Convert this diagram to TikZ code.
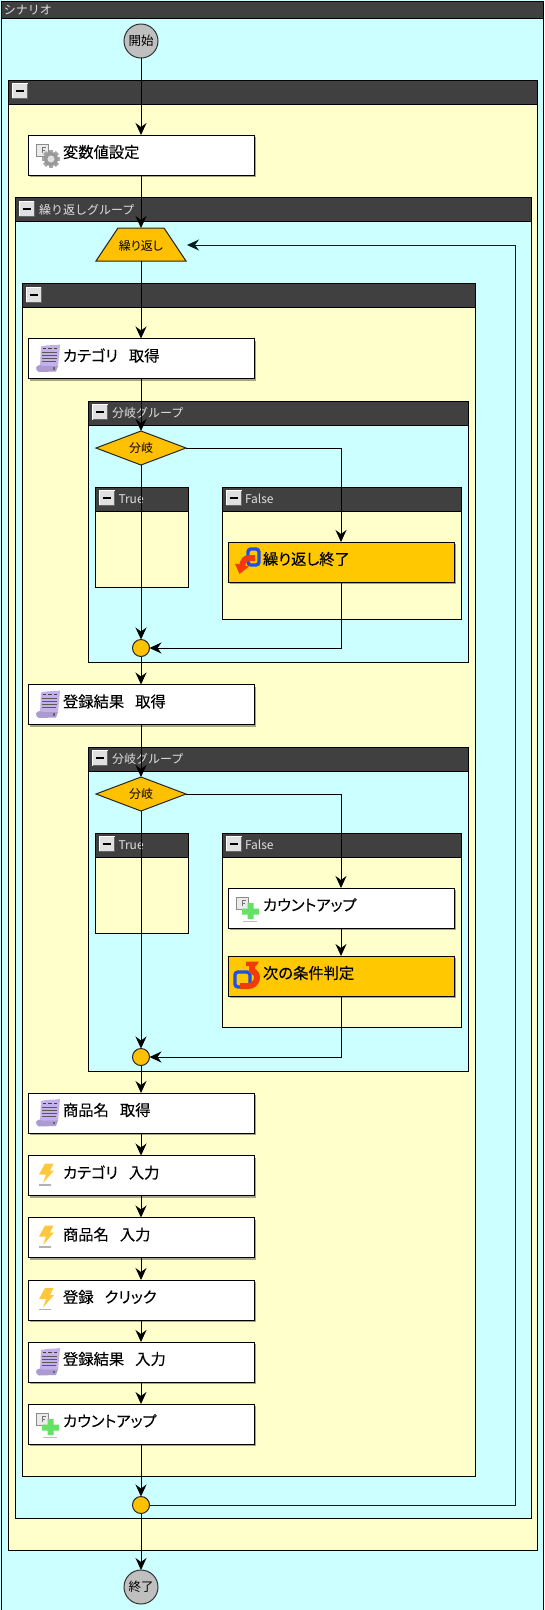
\documentclass[tikz,border=0pt]{standalone}
\usepackage{fontspec}
\setmainfont{Noto Sans CJK JP}[RawFeature=+palt]
\newfontfamily\flowfont{Noto Sans CJK JP}[RawFeature=+palt,FakeBold=0.12]
\newfontfamily\headfont{Noto Sans CJK JP}
\usetikzlibrary{arrows.meta,shapes.geometric,shadows,fit}
\definecolor{bgcyan}{HTML}{CCFFFF}
\definecolor{bgyellow}{HTML}{FFFFCC}
\definecolor{headgrey}{HTML}{404040}
\definecolor{amber}{HTML}{FFC000}
\definecolor{amberbox}{HTML}{FFC800}
\definecolor{scrollc}{HTML}{C4B0EC}
\definecolor{boltc}{HTML}{FFC83C}
\definecolor{plusc}{HTML}{66E066}
\definecolor{loopblue}{HTML}{1E50E6}
\definecolor{loopred}{HTML}{F03C0A}
\tikzset{
  x=1pt,y=-1pt,
  every node/.style={inner sep=0pt,outer sep=0pt},
  frame/.style={draw=black,line width=1pt,inner sep=0pt},
  header/.style={draw=black,line width=.8pt,fill=headgrey,inner sep=0pt},
  headtext/.style={text=white!88!black,font=\headfont\fontsize{12}{12}\selectfont,anchor=west},
  btn/.style={draw=white,fill=black!12,line width=1pt,minimum width=15pt,minimum height=15pt,anchor=north west},
  flowbox/.style={draw=black,line width=1pt,minimum width=226pt,minimum height=40pt,anchor=north west,
    drop shadow={shadow xshift=2pt,shadow yshift=-2pt,opacity=.35,fill=black}},
  flowtext/.style={anchor=west,text=black,font=\flowfont\fontsize{15.3}{15.3}\selectfont},
  terminal/.style={circle,draw=black!80,line width=1pt,fill=black!25,minimum size=34pt,font=\fontsize{12.5}{12.5}\selectfont},
  junction/.style={circle,draw=black!85,line width=1pt,fill=amber,minimum size=17pt},
  branchnode/.style={diamond,aspect=2.65,draw=black!85,line width=1pt,fill=amber,minimum width=90pt,minimum height=34pt,font=\fontsize{12}{12}\selectfont},
  loopnode/.style={minimum width=90pt,minimum height=33pt},
  loopshape/.style={draw=black!85,line width=1pt,fill=amber},
  looptext/.style={font=\fontsize{12}{12}\selectfont},
  link/.style={draw=black,line width=1pt,-{Stealth[length=12pt,width=11pt,inset=4pt]}},
  backlink/.style={draw=black!75!teal,line width=1pt,-{Stealth[length=12pt,width=11pt,inset=4pt]}},
}
% name x1 y1 x2 y2 fill label labelx
\newcommand{\mygroup}[8]{%
  \node[frame,fill=#6,fit={(#2,#3)(#4,#5)}] (#1) {};
  \pgfmathsetmacro{\hb}{#3+24}
  \node[header,fit={(#2,#3)(#4,\hb)}] (#1-h) {};
  \pgfmathsetmacro{\bx}{#2+4}\pgfmathsetmacro{\by}{#3+3.5}
  \node[btn] (#1-b) at (\bx,\by) {};
  \draw[black,line width=2pt] ([xshift=3.5pt]#1-b.west) -- ([xshift=-3.5pt]#1-b.east);
  \draw[black!60,line width=.6pt] (#1-b.south west) -- (#1-b.south east) -- (#1-b.north east);
  \node[headtext] (#1-l) at (#8,#3+12) {#7};
}
% name x y text icon fill
\newcommand{\mystep}[6]{%
  \node[flowbox,fill=#6] (#1) at (#2,#3) {};
  \node[flowtext] (#1-t) at ([shift={(35,17)}]#1.north west) {#4};
  \begin{scope}[shift={(#1.north west)}]#5\end{scope}
}
\newcommand{\docicon}{%
  \draw[black!45,fill=black!8,line width=1pt] (8,9) rectangle (20,21);
  \draw[black!55,line width=1pt] (14,18) -- (14,12) -- (18,12) (14,15) -- (17,15);
}
\newcommand{\gearicon}{\docicon
  \foreach \a in {0,45,...,315}{\fill[black!35,rotate around={\a:(23,24)}] (21,15) rectangle (25,33);}
  \fill[black!40] (23,24) circle (7);
  \fill[black!12] (23,24) circle (3.5);
}
\newcommand{\plusicon}{\docicon
  \fill[black!25] (15,32.5) rectangle (29,34);
  \fill[plusc] (19.5,15) rectangle (25.5,31) (14,20.5) rectangle (31,26.5);
}
\newcommand{\scrollicon}{%
  \fill[scrollc] (13,8) .. controls (20,6) and (28,7) .. (32,6) -- (30,28) -- (12,28) -- cycle;
  \draw[black!75,line width=1pt] (15,10) -- (18,10) (20,10) -- (24,10) (26,10) -- (29,10);
  \draw[black!65,line width=1pt] (14,14) -- (29,14) (14,17) -- (29,17) (14,20) -- (29,20) (14,23) -- (28,23);
  \fill[scrollc!88!black] (8,29) .. controls (10,26) and (13,26) .. (15,27.5) -- (30,27.5) -- (28,33) -- (11,33.5) .. controls (9,33) and (8,31) .. (8,29) -- cycle;
  \fill[black!60] (24.5,28.5) rectangle (27,31);
}
\newcommand{\bolticon}{%
  \fill[black!30] (11,28.5) rectangle (23,30);
  \fill[boltc] (17,8) -- (25.5,8) -- (22,15) -- (26,15) -- (15,27.5) -- (18,19) -- (11,19) -- cycle;
}
\newcommand{\breakicon}{%
  \draw[loopblue,line width=3.4pt,rounded corners=3pt,fill=amberbox] (20,7) rectangle (31,23);
  \draw[loopred,line width=6pt] (27,16) -- (22,16) .. controls (17,16) and (15,18) .. (14,25);
  \fill[loopred] (7,21.5) -- (21,24.5) -- (11.5,32) -- cycle;
}
\newcommand{\nexticon}{%
  \draw[loopblue,line width=3.4pt,rounded corners=3pt,fill=amberbox] (7,16) rectangle (22,31);
  \draw[loopred,line width=6pt] (24,9) -- (24,15) .. controls (32,17) and (30,30) .. (20,30) -- (12,30);
  \fill[loopred] (18,5.5) -- (31,5.5) -- (28,10) -- (18,10) -- cycle;
}
\begin{document}
\begin{tikzpicture}
\useasboundingbox (0,0) rectangle (544,1610);
\fill[bgcyan] (0,0) rectangle (544,1610);
\node[frame,fill=bgcyan,fit={(1,1)(543.5,1610)}] (scn) {};
\node[header,fit={(1,1)(543.5,18)}] (scn-h) {};
\node[headtext] (scn-l) at (4,10) {シナリオ};
\mygroup{g1}{8}{80}{537.5}{1550.5}{bgyellow}{}{34}
\mygroup{gloop}{15}{197.5}{531}{1518}{bgcyan}{繰り返しグループ}{39}
\mygroup{g2}{22}{283.5}{475.5}{1476}{bgyellow}{}{48}
% first branch
\mygroup{ba}{88.5}{401}{468.5}{662.5}{bgcyan}{分岐グループ}{112}
\mygroup{bat}{95}{487}{188}{587.5}{bgyellow}{True}{118.5}
\mygroup{baf}{222}{487}{461.5}{619}{bgyellow}{False}{245}
% second branch
\mygroup{bb}{88.5}{747}{468.5}{1071}{bgcyan}{分岐グループ}{112}
\mygroup{bbt}{95}{833}{188}{933.5}{bgyellow}{True}{118.5}
\mygroup{bbf}{222}{833}{461.5}{1027.5}{bgyellow}{False}{245}
% flow nodes
\node[terminal] (start) at (141,41) {開始};
\node[terminal] (finish) at (141,1587) {終了};
\mystep{init}{28}{135}{変数値設定}{\gearicon}{white}
\node[loopnode] (loop) at (141,244.5) {};
\draw[loopshape] ([xshift=22pt]loop.north west) -- ([xshift=-22pt]loop.north east) -- (loop.south east) -- (loop.south west) -- cycle;
\node[looptext] (loop-t) at (141,245.5) {繰り返し};
\mystep{cat}{28}{338.5}{カテゴリ\hspace{11pt}取得}{\scrollicon}{white}
\node[branchnode] (da) at (141,448) {分岐};
\mystep{brk}{228}{542}{繰り返し終了}{\breakicon}{amberbox}
\node[junction] (ma) at (141,648) {};
\mystep{reg}{28}{684.5}{登録結果\hspace{11pt}取得}{\scrollicon}{white}
\node[branchnode] (db) at (141,794) {分岐};
\mystep{cnta}{228}{888}{カウントアップ}{\plusicon}{white}
\mystep{nxt}{228}{956}{次の条件判定}{\nexticon}{amberbox}
\node[junction] (mb) at (141,1057) {};
\mystep{nam}{28}{1093}{商品名\hspace{11pt}取得}{\scrollicon}{white}
\mystep{icat}{28}{1155.5}{カテゴリ\hspace{11pt}入力}{\bolticon}{white}
\mystep{inam}{28}{1217.5}{商品名\hspace{11pt}入力}{\bolticon}{white}
\mystep{clk}{28}{1280}{登録\hspace{11pt}クリック}{\bolticon}{white}
\mystep{ireg}{28}{1342}{登録結果\hspace{11pt}入力}{\scrollicon}{white}
\mystep{cntb}{28}{1404}{カウントアップ}{\plusicon}{white}
\node[junction] (mc) at (141,1505) {};
\coordinate (rt) at (515.5,1505);
\coordinate (loopin) at (187,245);
% connectors
\draw[link] (start) -- (init);
\draw[link] (init) -- (loop);
\draw[link] (loop) -- (cat);
\draw[link] (cat) -- (da);
\draw[link] (da) -- (ma);
\draw[link] (da.east) -| (brk.north);
\draw[link] (brk.south) |- (ma.east);
\draw[link] (ma) -- (reg);
\draw[link] (reg) -- (db);
\draw[link] (db) -- (mb);
\draw[link] (db.east) -| (cnta.north);
\draw[link] (cnta) -- (nxt);
\draw[link] (nxt.south) |- (mb.east);
\draw[link] (mb) -- (nam);
\draw[link] (nam) -- (icat);
\draw[link] (icat) -- (inam);
\draw[link] (inam) -- (clk);
\draw[link] (clk) -- (ireg);
\draw[link] (ireg) -- (cntb);
\draw[link] (cntb) -- (mc);
\draw[link] (mc) -- (finish);
\draw[backlink] (mc.east) -- (rt) |- (loopin);
\end{tikzpicture}
\end{document}
